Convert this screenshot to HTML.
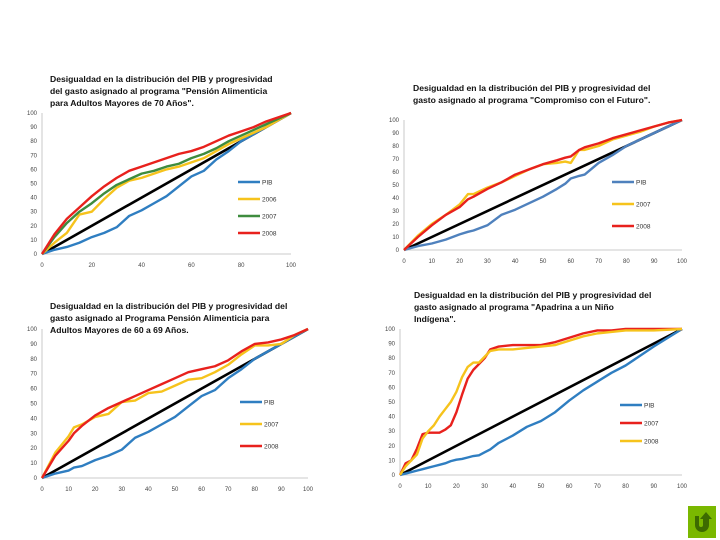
<!DOCTYPE html>
<html><head><meta charset="utf-8"><style>
html,body{margin:0;padding:0;background:#fff;}
svg{display:block;font-family:"Liberation Sans",sans-serif;}
.t{font-weight:bold;font-size:8.6px;fill:#111;}
.tk{font-size:6px;fill:#444;}
.lg{font-size:6.5px;fill:#333;}
</style></head><body>
<svg id="s" width="720" height="540" viewBox="0 0 720 540">
<g>
<text class="t" x="50" y="82">Desigualdad en la distribución del PIB y progresividad</text>
<text class="t" x="50" y="94">del gasto asignado al programa "Pensión Alimenticia</text>
<text class="t" x="50" y="106">para Adultos Mayores de 70 Años".</text></g>
<g>
<text class="t" x="413" y="91">Desigualdad en la distribución del PIB y progresividad del</text>
<text class="t" x="413" y="103">gasto asignado al programa "Compromiso con el Futuro".</text></g>
<g>
<text class="t" x="50" y="309">Desigualdad en la distribución del PIB y progresividad del</text>
<text class="t" x="50" y="321">gasto asignado al Programa Pensión Alimenticia para</text>
<text class="t" x="50" y="333">Adultos Mayores de 60 a 69 Años.</text></g>
<g>
<text class="t" x="414" y="298">Desigualdad en la distribución del PIB y progresividad del</text>
<text class="t" x="414" y="310">gasto asignado al programa "Apadrina a un Niño</text>
<text class="t" x="414" y="322">Indígena".</text></g>
<g>
<rect x="688" y="506" width="28" height="32" fill="#7ab800"/>
<path d="M695 516 v9 a7 7 0 0 0 14 0 v-6 h3 l-6 -7 l-6 7 h3 v6 a2 2 0 0 1 -4 0 v-9 z" fill="#3d6b00"/>
</g>
</svg>
<script>
const NS="http://www.w3.org/2000/svg";
const svg=document.getElementById('s');
// chart 1
const c1X=[0,5,10,15,20,25,30,35,40,45,50,55,60,65,70,75,80,85,90,95,100];
const c1PIB=[0,3,5,8,12,15,19,27,31,36,41,48,55,59,67,73,80,85,90,95,100];
const c12006=[0,8,15,28,30,39,47,52,54,57,60,62,65,68,73,78,82,86,90,95,100];
const c12007=[0,12,22,30,36,43,49,53,57,59,62,64,68,71,75,80,84,88,92,96,100];
const c12008=[0,14,25,33,41,48,54,59,62,65,68,71,73,76,80,84,87,90,94,97,100];
const c1Ticks=[0,20,40,60,80,100];
// chart 2
const c2X=[0,5,10,15,20,23,25,30,35,40,45,50,55,58,60,63,65,70,75,80,85,90,95,100];
const c2PIB=[0,3,5,8,12,14,15,19,27,31,36,41,47,51,55,57,58,67,73,80,85,90,95,100];
const c22007=[0,11,20,27,35,43,43,48,52,57,62,66,67,68,67,77,77,80,85,88,91,95,98,100];
const c22008=[0,10,19,27,33,39,41,47,52,58,62,66,69,71,72,77,79,82,86,89,92,95,98,100];
const c2Ticks=[0,10,20,30,40,50,60,70,80,90,100];
// chart 3
const c3X=[0,5,10,12,15,20,25,30,35,40,45,50,55,60,65,70,75,80,85,90,95,100];
const c3PIB=[0,3,5,7,8,12,15,19,27,31,36,41,48,55,59,67,73,80,85,90,95,100];
const c32007=[0,17,28,34,36,41,43,51,52,57,58,62,66,67,71,76,83,89,89,90,96,100];
const c32008=[0,15,25,30,35,42,47,51,55,59,63,67,71,73,75,79,85,90,91,93,96,100];
const c3Ticks=[0,10,20,30,40,50,60,70,80,90,100];
// chart 4
const c4X=[0,2,4,6,8,10,12,14,16,18,20,22,24,26,28,30,32,35,40,45,50,55,60,65,70,75,80,90,100];
const c4PIB=[0,1,2,3,4,5,6,7,8,9.5,10.5,11,12,13,13.5,15.5,17.5,22,27,33,37,43,51,58,64,70,75,88,100];
const c42007=[0,8,10,18,28,29,29,29,31,34,43,55,66,72,76,80,86,88,89,89,89,91,94,97,99,99,100,100,100];
const c42008=[0,6,10,14,25,30,34,40,45,50,57,67,74,77,77,81,85,86,86,87,88,89,92,95,97,98,99,99,100];
const c4Ticks=[0,10,20,30,40,50,60,70,80,90,100];
const yTicks=[0,10,20,30,40,50,60,70,80,90,100];

function el(tag,attrs,parent){const e=document.createElementNS(NS,tag);for(const k in attrs)e.setAttribute(k,attrs[k]);(parent||svg).appendChild(e);return e;}

function chart(id,box,xs,series,xt,leg){
  const g=el('g',{});
  
  
  const sx=v=>box.l+(box.r-box.l)*v/100, sy=v=>box.b-(box.b-box.t)*v/100;
  const ax=el('path',{d:`M${box.l} ${box.t}V${box.b}H${box.r}`,stroke:'#bbb','stroke-width':0.8,fill:'none'},g);
  
  
  yTicks.forEach(v=>{
    const t=el('text',{x:box.l-5,y:sy(v)+2,'text-anchor':'end',class:'tk'},g);t.textContent=v;
    
    
  });
  xt.forEach(v=>{
    const t=el('text',{x:sx(v),y:box.b+13,'text-anchor':'middle',class:'tk'},g);t.textContent=v;
    
    
  });
  const eq=el('line',{x1:sx(0),y1:sy(0),x2:sx(100),y2:sy(100),stroke:'#000','stroke-width':2.6},g);
  
  
  series.forEach((s,i)=>{
    const p=el('polyline',{points:s.v.map((v,j)=>sx(xs[j])+','+sy(v)).join(' '),fill:'none',stroke:s.c,'stroke-width':2.4,'stroke-linejoin':'round'},g);
    
    
  });
  series.forEach((s,i)=>{
    const y=leg.y+i*leg.d;
    const lg=el('g',{},g);
    
    
    el('line',{x1:leg.x,y1:y,x2:leg.x+22,y2:y,stroke:s.c,'stroke-width':2.6},lg);
    const t=el('text',{x:leg.x+24,y:y+2.3,class:'lg'},lg);t.textContent=s.n;
  });
}
chart('chart-pension-70',{l:42,r:291,t:113,b:254},c1X,
 [{n:'PIB',v:c1PIB,c:'#2f7ec1'},{n:'2006',v:c12006,c:'#f6c31c'},{n:'2007',v:c12007,c:'#3e8c3e'},{n:'2008',v:c12008,c:'#e8211d'}],c1Ticks,{x:238,y:182,d:17});
chart('chart-compromiso',{l:404,r:682,t:120,b:250},c2X,
 [{n:'PIB',v:c2PIB,c:'#4f81bd'},{n:'2007',v:c22007,c:'#f6c31c'},{n:'2008',v:c22008,c:'#e8211d'}],c2Ticks,{x:612,y:182,d:22});
chart('chart-pension-60-69',{l:42,r:308,t:329,b:478},c3X,
 [{n:'PIB',v:c3PIB,c:'#2f7ec1'},{n:'2007',v:c32007,c:'#f6c31c'},{n:'2008',v:c32008,c:'#e8211d'}],c3Ticks,{x:240,y:402,d:22});
chart('chart-apadrina',{l:400,r:682,t:329,b:475},c4X,
 [{n:'PIB',v:c4PIB,c:'#2f7ec1'},{n:'2007',v:c42007,c:'#e8211d'},{n:'2008',v:c42008,c:'#f6c31c'}],c4Ticks,{x:620,y:405,d:18});
</script>
</body></html>
